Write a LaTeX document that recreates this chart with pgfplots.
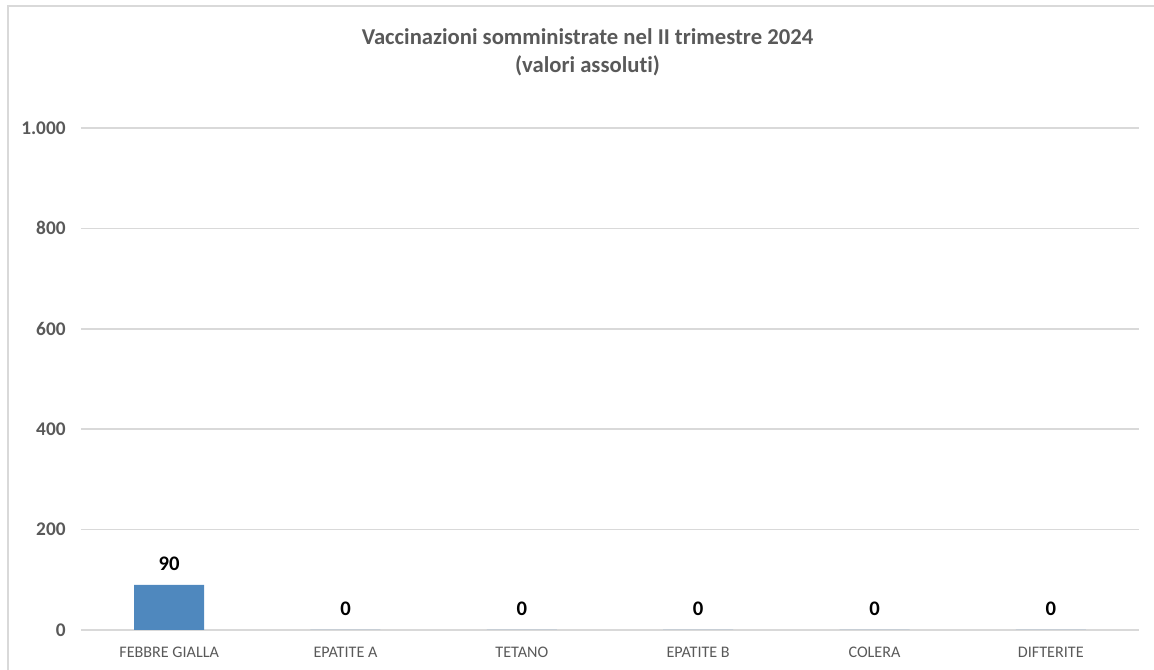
\documentclass[border=0pt]{standalone}
\usepackage{pgfplots}
\pgfplotsset{compat=1.18}
\usepackage{fontspec}
\setmainfont{Carlito}[Ligatures={NoCommon}]
\definecolor{barblue}{HTML}{4F88BE}
\definecolor{gridgray}{HTML}{D9D9D9}
\definecolor{textgray}{HTML}{595959}
\begin{document}
\begin{tikzpicture}
\begin{axis}[
  at={(0,0)}, anchor=south west,
  scale only axis,
  width=793.5pt, height=376.5pt,
  ybar, bar width=52.5pt,
  xmin=-0.5, xmax=5.5,
  ymin=0, ymax=1000,
  ytick={0,200,400,600,800,1000},
  xtick=data,
  xticklabels={FEBBRE GIALLA, EPATITE A, TETANO, EPATITE B, COLERA, DIFTERITE},
  axis line style={draw=none},
  axis x line*=bottom,
  tick style={draw=none},
  ymajorgrids, grid style={gridgray, line width=1.2pt},
  /pgf/number format/assume math mode=true,
  /pgf/number format/.cd, 1000 sep={.}, /pgfplots/.cd,
  yticklabel style={font=\fontsize{14.5}{17}\selectfont\bfseries, text=textgray, xshift=-8pt},
  xticklabel style={font=\fontsize{12.1}{15}\selectfont, text=textgray, yshift=-5pt},
  nodes near coords,
  every node near coord/.append style={font=\fontsize{15.5}{18}\selectfont\bfseries, text=black, yshift=7pt},
  clip=false,
]
\addplot[fill=barblue, draw=none] coordinates {(0,90) (1,0) (2,0) (3,0) (4,0) (5,0)};
\end{axis}
\node[align=center, text=textgray, font=\fontsize{17}{21}\selectfont\bfseries] at (379.9pt,433.5pt)
  {Vaccinazioni somministrate nel II trimestre 2024\\(valori assoluti)};
\draw[gridgray, line width=1.5pt] (-55.1pt,-40pt) -- (-55.1pt,468pt) -- (820pt,468pt);
\pgfresetboundingbox
\path[use as bounding box] (-60.75pt,-30pt) rectangle (804.75pt,472.5pt);
\end{tikzpicture}
\end{document}
